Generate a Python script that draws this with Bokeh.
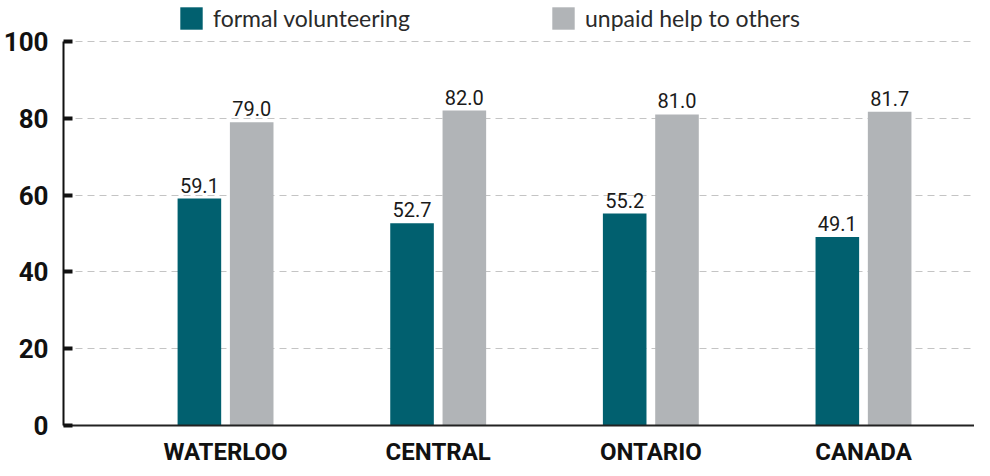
from bokeh.plotting import figure
from bokeh.models import FixedTicker, Legend, LegendItem, ColumnDataSource
from bokeh.transform import dodge
from bokeh.core.properties import value
from bokeh.embed import file_html
from bokeh.resources import INLINE

categories = ["WATERLOO", "CENTRAL", "ONTARIO", "CANADA"]
formal = [59.1, 52.7, 55.2, 49.1]
unpaid = [79.0, 82.0, 81.0, 81.7]
y_ticks = [0, 20, 40, 60, 80, 100]
series_names = ["formal volunteering", "unpaid help to others"]

TEAL = "#01606f"
GREY = "#b1b4b7"
BOLD_FONT = "Roboto"

idx = list(range(len(categories)))
src = ColumnDataSource(dict(
    x=idx, formal=formal, unpaid=unpaid,
    flab=[f"{v:.1f}" for v in formal],
    ulab=[f"{v:.1f}" for v in unpaid],
))

FH = 425          # frame height in px (frame spans to canvas top)
TOP_PX = 41       # pixel row where the value 100 sits
Y_TOP = 100 * FH / (FH - TOP_PX)

p = figure(frame_width=911, frame_height=FH, x_range=(-0.762, 3.522), y_range=(0, Y_TOP),
           output_backend="svg", toolbar_location=None,
           min_border_left=63, min_border_right=0, min_border_top=0, min_border_bottom=35)
p.outline_line_color = None

OFF = 0.123
W = 0.205
r1 = p.vbar(x=dodge('x', -OFF), top='formal', width=W, source=src, fill_color=TEAL, line_color=None)
r2 = p.vbar(x=dodge('x', OFF), top='unpaid', width=W, source=src, fill_color=GREY, line_color=None)

for col, lab, off in (("formal", "flab", -OFF), ("unpaid", "ulab", OFF)):
    p.text(x=dodge('x', off), y=col, text=lab, source=src, text_align="center",
           text_baseline="bottom", y_offset=-6, text_font=value("Roboto"),
           text_font_size="20px", text_color="#1a1a1a")

# grid
p.xgrid.grid_line_color = None
p.ygrid.ticker = FixedTicker(ticks=y_ticks)
p.ygrid.grid_line_color = "#c4c4c4"
p.ygrid.grid_line_dash = "7 5"
p.ygrid.grid_line_width = 1

# y axis
p.yaxis.ticker = FixedTicker(ticks=y_ticks)
p.yaxis.bounds = (0, 100)
p.yaxis.major_tick_in = 9
p.yaxis.major_tick_out = 0
p.yaxis.major_tick_line_width = 4
p.yaxis.major_tick_line_color = "#111111"
p.yaxis.minor_tick_line_color = None
p.yaxis.axis_line_width = 2
p.yaxis.axis_line_color = "#111111"
p.yaxis.major_label_standoff = 15
p.yaxis.major_label_text_font = BOLD_FONT
p.yaxis.major_label_text_font_style = "bold"
p.yaxis.major_label_text_font_size = "26px"
p.yaxis.major_label_text_color = "#111111"

# x axis
p.xaxis.ticker = FixedTicker(ticks=idx)
p.xaxis.major_label_overrides = {i: c for i, c in zip(idx, categories)}
p.xaxis.major_tick_line_color = None
p.xaxis.minor_tick_line_color = None
p.xaxis.axis_line_width = 2
p.xaxis.axis_line_color = "#222222"
p.xaxis.major_label_standoff = 6
p.xaxis.major_label_text_font = BOLD_FONT
p.xaxis.major_label_text_font_style = "bold"
p.xaxis.major_label_text_font_size = "24px"
p.xaxis.major_label_text_color = "#111111"

# legends (inside the frame, above the value 100)
GL = 28
for name, r, xloc in ((series_names[0], r1, 114), (series_names[1], r2, 486)):
    leg = Legend(items=[LegendItem(label=name, renderers=[r])], location=(xloc, FH - 18 - GL // 2),
                 orientation="horizontal", glyph_width=GL, glyph_height=GL,
                 label_standoff=8, label_text_font="Lato", label_text_font_size="23px",
                 label_text_color="#2a2a2a", label_height=GL,
                 padding=0, margin=0, border_line_alpha=0, background_fill_alpha=0)
    p.add_layout(leg)

open("out.html", "w").write(file_html(p, INLINE))
